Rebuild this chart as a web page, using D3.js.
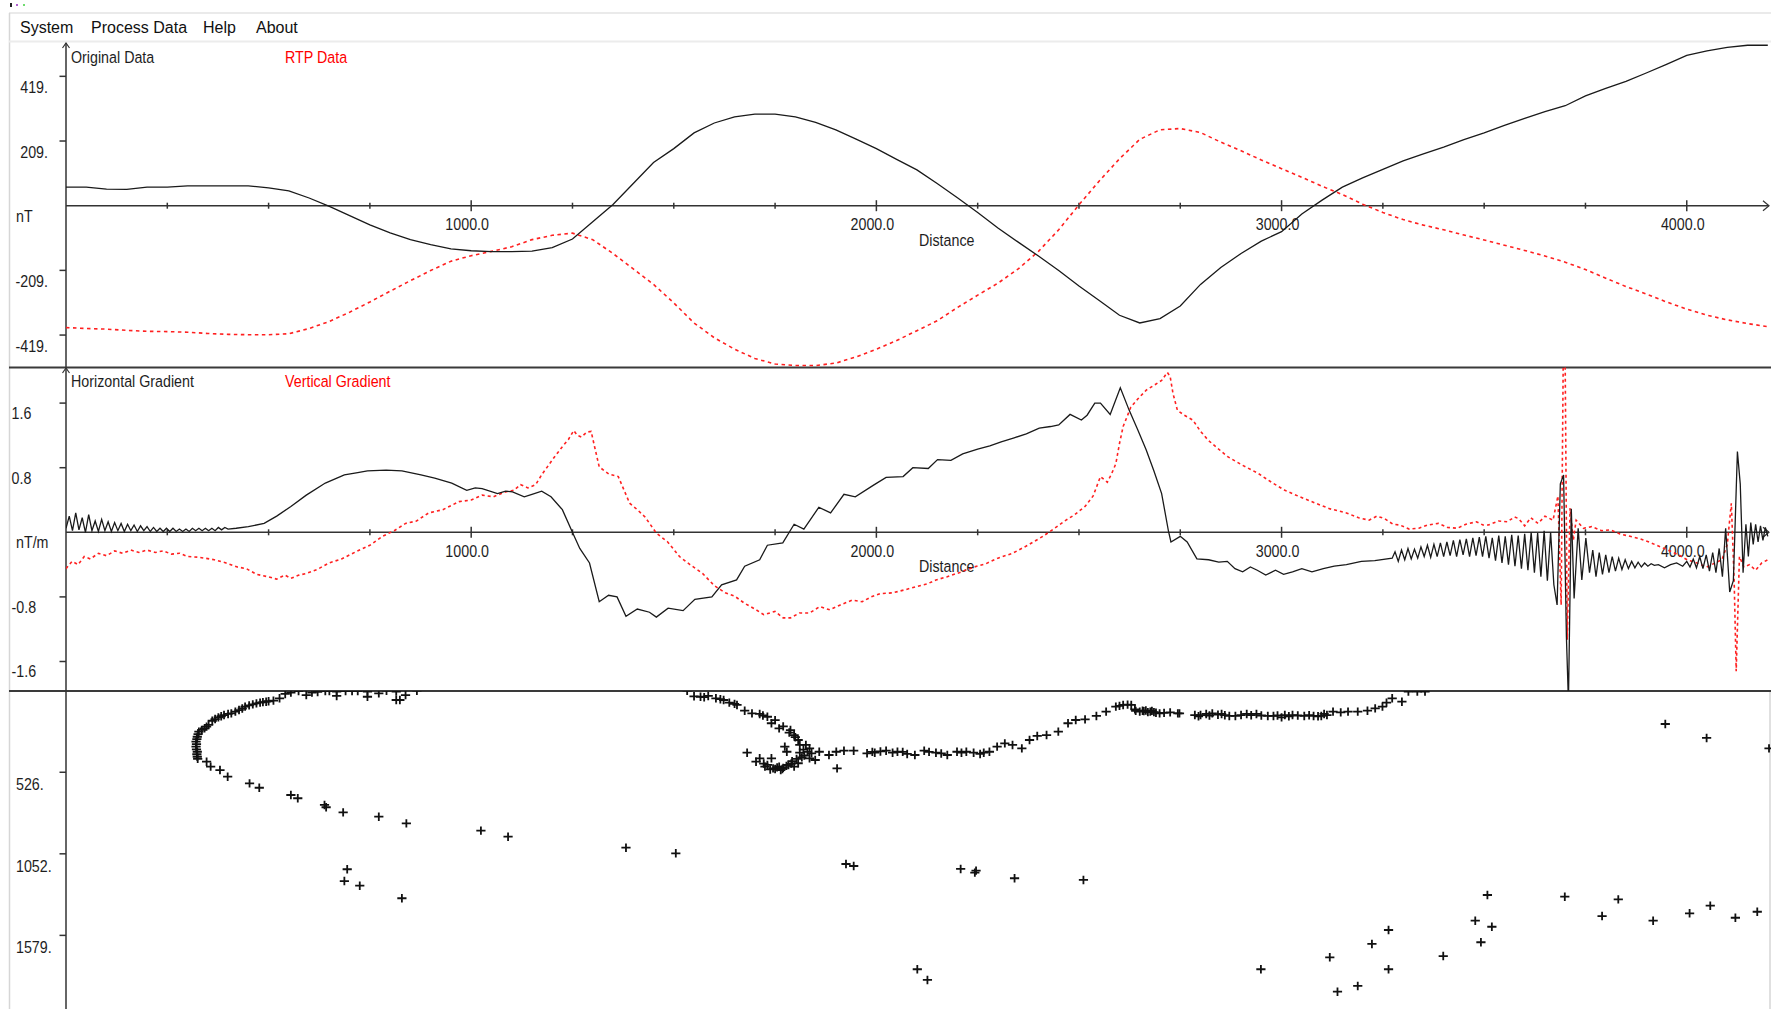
<!DOCTYPE html>
<html>
<head>
<meta charset="utf-8">
<script src="https://cdn.jsdelivr.net/npm/d3@7"></script>
<style>
  body { margin: 0; background: #fff; overflow: hidden; }
  text { font-family: "Liberation Sans", Arial, sans-serif; font-size: 17px; fill: #1e1e1e; }
  .menu text { font-family: "Segoe UI", "Liberation Sans", Arial, sans-serif; font-size: 16px; fill: #111; }
</style>
</head>
<body>
<div id="canvas"></div>
<script>
// ---- panel 1 : original / RTP field (nT) sampled every 50 m ----
const odDist = [
  0, 50, 100, 150, 200, 250, 300, 350, 400, 450,
  500, 550, 600, 650, 700, 750, 800, 850, 900, 950,
  1000, 1050, 1100, 1150, 1200, 1250, 1300, 1350, 1400, 1450,
  1500, 1550, 1600, 1650, 1700, 1750, 1800, 1850, 1900, 1950,
  2000, 2050, 2100, 2150, 2200, 2250, 2300, 2350, 2400, 2450,
  2500, 2550, 2600, 2650, 2700, 2750, 2800, 2850, 2900, 2950,
  3000, 3050, 3100, 3150, 3200, 3250, 3300, 3350, 3400, 3450,
  3500, 3550, 3600, 3650, 3700, 3750, 3800, 3850, 3900, 3950,
  4000, 4050, 4100, 4150, 4200
];
const odVal = [
  60, 60, 54, 53, 60, 60, 64, 64, 64, 64,
  58, 48, 25, -2, -32, -62, -88, -110, -126, -140,
  -146, -149, -149, -147, -136, -108, -52, 4, 72, 140,
  185, 236, 268, 288, 297, 297, 288, 270, 246, 216,
  185, 150, 116, 72, 26, -22, -72, -118, -163, -210,
  -260, -307, -355, -380, -366, -325, -255, -200, -155, -115,
  -84, -27, 18, 60, 90, 118, 145, 168, 190, 214,
  236, 260, 283, 305, 324, 356, 380, 403, 430, 458,
  487, 502, 513, 520, 520
];
const rtpVal = [
  -395, -398, -400, -404, -407, -408, -410, -414, -417, -418,
  -418, -415, -398, -375, -345, -312, -277, -243, -210, -180,
  -162, -148, -133, -110, -96, -89, -110, -155, -205, -255,
  -315, -380, -428, -465, -495, -513, -518, -518, -510, -490,
  -465, -437, -405, -373, -330, -290, -251, -205, -148, -78,
  3, 80, 152, 215, 246, 250, 237, 206, 178, 148,
  120, 92, 63, 36, 5, -22, -45, -63, -78, -95,
  -111, -128, -145, -163, -183, -207, -235, -262, -286, -312,
  -335, -355, -370, -382, -392
];

// ---- panel 2 : horizontal gradient (nT/m) ----
const hgDist = [
  0, 8, 16, 24, 32, 40, 48, 56, 64, 72,
  80, 88, 96, 104, 112, 120, 128, 136, 144, 152,
  160, 168, 176, 184, 192, 200, 208, 216, 224, 232,
  240, 248, 256, 264, 272, 280, 288, 296, 304, 312,
  320, 328, 336, 344, 352, 360, 368, 376, 384, 392,
  400, 420, 450, 489, 520, 555, 593, 640, 687, 720,
  744, 790, 829, 876, 910, 952, 989, 1010, 1027, 1065,
  1085, 1102, 1131, 1150, 1174, 1197, 1225, 1249, 1268, 1292,
  1316, 1339, 1360, 1382, 1410, 1440, 1457, 1486, 1523, 1552,
  1594, 1618, 1655, 1675, 1712, 1731, 1769, 1797, 1821, 1858,
  1887, 1920, 1948, 1995, 2024, 2066, 2090, 2128, 2151, 2184,
  2213, 2250, 2280, 2308, 2340, 2370, 2402, 2430, 2450, 2478,
  2506, 2520, 2539, 2553, 2577, 2602, 2624, 2645, 2666, 2685,
  2704, 2721, 2727, 2750, 2767, 2791, 2820, 2845, 2866, 2885,
  2904, 2923, 2940, 2961, 2985, 3005, 3027, 3050, 3075, 3103,
  3130, 3160, 3197, 3230, 3273, 3280, 3288, 3296, 3304, 3312,
  3320, 3328, 3336, 3344, 3352, 3360, 3368, 3376, 3384, 3392,
  3400, 3408, 3416, 3424, 3432, 3440, 3448, 3456, 3464, 3472,
  3480, 3488, 3496, 3504, 3512, 3520, 3528, 3536, 3544, 3552,
  3560, 3568, 3576, 3584, 3592, 3600, 3608, 3616, 3624, 3632,
  3640, 3648, 3656, 3664, 3672, 3680, 3688, 3696, 3703, 3708,
  3715, 3722, 3732, 3741, 3751, 3760, 3768, 3776, 3784, 3792,
  3800, 3808, 3816, 3824, 3832, 3840, 3848, 3856, 3864, 3872,
  3880, 3888, 3896, 3904, 3912, 3920, 3930, 3945, 3960, 3975,
  3990, 4000, 4008, 4016, 4024, 4032, 4040, 4048, 4056, 4064,
  4072, 4080, 4088, 4096, 4106, 4115, 4125, 4132, 4139, 4146,
  4152, 4158, 4164, 4170, 4176, 4182, 4188, 4194, 4200
];
const hgVal = [
  0.05, 0.20, 0.02, 0.24, 0.03, 0.18, 0.00, 0.22, 0.02, 0.14,
  0.01, 0.16, 0.02, 0.13, 0.01, 0.12, 0.02, 0.11, 0.01, 0.10,
  0.02, 0.09, 0.01, 0.08, 0.02, 0.07, 0.01, 0.06, 0.01, 0.05,
  0.01, 0.05, 0.01, 0.05, 0.01, 0.04, 0.01, 0.04, 0.01, 0.05,
  0.02, 0.05, 0.02, 0.05, 0.02, 0.05, 0.02, 0.06, 0.03, 0.06,
  0.04, 0.05, 0.07, 0.11, 0.20, 0.32, 0.46, 0.61, 0.71, 0.74,
  0.76, 0.77, 0.76, 0.71, 0.67, 0.61, 0.52, 0.55, 0.54, 0.48,
  0.51, 0.50, 0.44, 0.47, 0.51, 0.44, 0.28, 0.01, -0.20, -0.38,
  -0.86, -0.78, -0.80, -1.04, -0.95, -0.99, -1.05, -0.94, -0.97, -0.83,
  -0.80, -0.65, -0.59, -0.42, -0.34, -0.16, -0.13, 0.10, 0.04, 0.31,
  0.24, 0.47, 0.44, 0.59, 0.68, 0.69, 0.80, 0.79, 0.90, 0.89,
  0.97, 1.03, 1.07, 1.12, 1.17, 1.22, 1.29, 1.31, 1.33, 1.46,
  1.39, 1.45, 1.60, 1.60, 1.46, 1.79, 1.51, 1.27, 1.02, 0.76,
  0.48, 0.01, -0.12, -0.05, -0.12, -0.33, -0.34, -0.37, -0.36, -0.45,
  -0.49, -0.43, -0.47, -0.53, -0.47, -0.52, -0.49, -0.45, -0.49, -0.45,
  -0.42, -0.40, -0.36, -0.35, -0.32, -0.24, -0.36, -0.22, -0.34, -0.20,
  -0.33, -0.21, -0.32, -0.18, -0.30, -0.16, -0.31, -0.15, -0.30, -0.13,
  -0.30, -0.12, -0.29, -0.10, -0.30, -0.09, -0.28, -0.08, -0.30, -0.07,
  -0.29, -0.06, -0.30, -0.05, -0.32, -0.07, -0.35, -0.04, -0.38, -0.05,
  -0.40, -0.03, -0.42, -0.04, -0.45, -0.02, -0.47, 0.00, -0.50, -0.01,
  -0.55, 0.02, -0.60, 0.00, -0.65, -0.90, 0.60, 0.71, -1.30, -2.10,
  0.29, -0.82, 0.05, -0.59, -0.07, -0.50, -0.22, -0.55, -0.25, -0.52,
  -0.28, -0.50, -0.30, -0.48, -0.32, -0.46, -0.34, -0.45, -0.36, -0.44,
  -0.37, -0.43, -0.38, -0.42, -0.39, -0.41, -0.40, -0.44, -0.40, -0.38,
  -0.42, -0.36, -0.43, -0.33, -0.44, -0.30, -0.45, -0.28, -0.48, -0.25,
  -0.50, -0.20, -0.55, 0.05, -0.74, -0.60, 1.00, 0.60, -0.50, 0.10,
  -0.30, 0.12, -0.15, 0.10, -0.12, 0.08, -0.10, 0.06, -0.05
];

// ---- panel 2 : vertical gradient (nT/m) ----
const vgDist = [
  0, 15, 30, 45, 60, 80, 100, 120, 140, 160,
  180, 200, 220, 240, 260, 281, 300, 330, 366, 395,
  423, 445, 470, 498, 520, 540, 555, 575, 593, 620,
  649, 680, 716, 750, 781, 810, 838, 865, 895, 930,
  970, 1000, 1027, 1055, 1084, 1105, 1122, 1140, 1159, 1175,
  1188, 1205, 1225, 1240, 1253, 1262, 1272, 1285, 1296, 1305,
  1316, 1340, 1363, 1391, 1410, 1429, 1457, 1485, 1514, 1540,
  1571, 1600, 1627, 1650, 1675, 1700, 1722, 1750, 1770, 1788,
  1810, 1835, 1860, 1885, 1911, 1940, 1965, 1987, 2010, 2040,
  2072, 2100, 2125, 2147, 2175, 2210, 2241, 2270, 2300, 2336,
  2370, 2411, 2440, 2468, 2490, 2515, 2535, 2553, 2570, 2581,
  2591, 2600, 2609, 2628, 2645, 2666, 2685, 2704, 2718, 2725,
  2732, 2743, 2760, 2781, 2800, 2819, 2840, 2866, 2900, 2942,
  2975, 3008, 3045, 3084, 3120, 3160, 3190, 3216, 3235, 3254,
  3275, 3292, 3315, 3339, 3360, 3387, 3410, 3434, 3455, 3481,
  3497, 3510, 3535, 3557, 3575, 3585, 3600, 3615, 3633, 3650,
  3670, 3682, 3690, 3695, 3700, 3705, 3712, 3720, 3727, 3745,
  3765, 3790, 3812, 3835, 3860, 3885, 3907, 3930, 3954, 3980,
  4001, 4025, 4049, 4070, 4087, 4100, 4110, 4117, 4122, 4130,
  4141, 4155, 4170, 4185, 4200
];
const vgVal = [
  -0.45, -0.36, -0.40, -0.30, -0.33, -0.26, -0.29, -0.23, -0.26, -0.22,
  -0.25, -0.22, -0.25, -0.23, -0.27, -0.26, -0.30, -0.31, -0.34, -0.38,
  -0.43, -0.45, -0.52, -0.55, -0.58, -0.53, -0.57, -0.53, -0.51, -0.46,
  -0.38, -0.33, -0.24, -0.16, -0.05, 0.02, 0.11, 0.14, 0.24, 0.28,
  0.38, 0.40, 0.46, 0.44, 0.50, 0.52, 0.59, 0.55, 0.59, 0.72,
  0.81, 0.93, 1.06, 1.15, 1.26, 1.20, 1.18, 1.24, 1.25, 1.05,
  0.81, 0.72, 0.69, 0.36, 0.28, 0.19, -0.01, -0.12, -0.30, -0.40,
  -0.51, -0.66, -0.75, -0.79, -0.88, -0.95, -1.02, -0.98, -1.06, -1.06,
  -1.00, -1.00, -0.92, -0.96, -0.90, -0.84, -0.86, -0.80, -0.76, -0.75,
  -0.71, -0.67, -0.64, -0.59, -0.55, -0.49, -0.43, -0.39, -0.32, -0.26,
  -0.17, -0.05, 0.05, 0.15, 0.22, 0.32, 0.45, 0.69, 0.62, 0.73,
  0.85, 1.10, 1.31, 1.55, 1.65, 1.76, 1.82, 1.88, 1.98, 1.93,
  1.72, 1.51, 1.45, 1.39, 1.25, 1.14, 1.05, 0.94, 0.84, 0.73,
  0.62, 0.52, 0.44, 0.36, 0.29, 0.24, 0.18, 0.15, 0.20, 0.17,
  0.10, 0.09, 0.04, 0.05, 0.09, 0.11, 0.06, 0.05, 0.10, 0.13,
  0.09, 0.09, 0.14, 0.13, 0.19, 0.17, 0.08, 0.18, 0.11, 0.20,
  0.15, 0.45, -0.90, 2.05, 2.05, -1.33, 0.30, -0.10, 0.15, 0.05,
  0.07, 0.02, 0.03, -0.02, -0.05, -0.08, -0.12, -0.17, -0.22, -0.28,
  -0.34, -0.38, -0.43, -0.38, -0.34, -0.15, 0.36, -0.60, -1.72, -0.30,
  -0.43, -0.40, -0.47, -0.38, -0.34
];

// ---- panel 3 : depth solutions (distance, depth) ----
const solDist = [
  866, 838, 815, 815, 824, 791, 772, 744, 744, 720,
  706, 690, 668, 668, 650, 640, 621, 607, 593, 574,
  555, 541, 527, 512, 500, 494, 486, 479, 470, 461,
  452, 442, 435, 427, 418, 408, 400, 390, 383, 376,
  368, 361, 352, 347, 342, 335, 328, 326, 324, 323,
  321, 322, 321, 322, 324, 323, 324, 325, 347, 357,
  380, 399, 453, 477, 555, 572, 638, 642, 684, 772,
  840, 1024, 1091, 694, 687, 725, 829,
  1533, 1550, 1566, 1575, 1585, 1604, 1615, 1623, 1637, 1650,
  1656, 1675, 1693, 1712, 1720, 1731, 1741, 1750, 1760, 1770,
  1785, 1788, 1797, 1800, 1807, 1811, 1820, 1826, 1835, 1840,
  1859, 1849, 1835, 1816, 1790, 1770, 1750, 1722, 1731, 1745,
  1760, 1764, 1783, 1797, 1807, 1741, 1712, 1703, 1681, 1774,
  1779, 1811, 1883, 1901, 1903, 1920, 1944, 1977, 1990, 1996,
  2010, 2024, 2040, 2052, 2065, 2076, 2095, 2118, 2130, 2147,
  2160, 2175, 2199, 2210, 2222, 2240, 2256, 2265, 2279, 2298,
  2317, 2336, 2359, 2378, 2397, 2420, 2449, 2473, 2492, 2515,
  2543, 2567, 2591, 2600, 2609, 2620, 2629, 2638, 2640, 2650,
  2657, 2665, 2676, 2685, 2699, 2710, 2725, 2744,
  1725, 1738, 1755, 1768, 1778, 1792, 1803, 1822, 1830, 2660,
  2670, 2680, 2690,
  2748, 2786, 2795, 2800, 2814, 2822, 2829, 2843, 2852, 2860,
  2871, 2886, 2900, 2914, 2925, 2938, 2950, 2966, 2980, 2990,
  3000, 3008, 3018, 3027, 3040, 3056, 3068, 3079, 3090, 3098,
  3105, 3112, 3127, 3146, 3164, 3188, 3212, 3231, 3249, 3259,
  3273, 3297, 3313, 3335, 3354,
  1382, 1505, 1925, 1944, 2208, 2243, 2246, 2341, 2511, 2101,
  2126, 3947, 4049, 4203, 2949, 3119, 3138, 3188, 3223, 3264,
  3264, 3399, 3478, 3508, 3519, 3492, 3699, 3791, 3831, 3917,
  4007, 4058, 4120, 4174
];
const solDepth = [
  0, 28, 6, 60, 60, 0, 17, 6, 39, 2,
  2, 2, 6, 34, 2, 2, 8, 12, 28, 2,
  12, 21, 49, 64, 68, 71, 74, 77, 82, 88,
  95, 103, 115, 125, 135, 146, 150, 157, 165, 172,
  183, 194, 221, 232, 243, 253, 264, 280, 297, 312,
  329, 345, 361, 378, 394, 410, 426, 440, 458, 490,
  512, 555, 598, 626, 673, 694, 737, 752, 785, 813,
  856, 903, 942, 1152, 1228, 1258, 1339,
  0, 36, 39, 42, 34, 49, 55, 60, 77, 85,
  92, 129, 146, 150, 160, 168, 210, 190, 243, 230,
  270, 254, 286, 300, 318, 350, 380, 350, 372, 404,
  394, 447, 436, 430, 470, 498, 505, 470, 479, 501,
  490, 512, 479, 490, 468, 436, 436, 458, 400, 361,
  394, 400, 415, 394, 501, 387, 387, 404, 395, 400,
  392, 387, 400, 394, 395, 408, 415, 387, 395, 400,
  405, 415, 394, 400, 394, 400, 408, 400, 394, 361,
  340, 350, 372, 318, 292, 286, 264, 210, 189, 185,
  163, 135, 103, 98, 92, 90, 92, 120, 130, 135,
  129, 128, 135, 138, 146, 143, 140, 146,
  490, 508, 495, 505, 485, 455, 440, 418, 395, 132,
  138, 130, 142,
  146, 157, 165, 157, 150, 160, 146, 155, 150, 158,
  163, 163, 157, 150, 158, 150, 160, 163, 163, 160,
  172, 157, 165, 157, 160, 163, 158, 163, 165, 163,
  150, 157, 135, 140, 135, 135, 129, 114, 103, 77,
  49, 71, 6, 6, 6,
  1013, 1049, 1118, 1131, 1150, 1174, 1161, 1210, 1221, 1797,
  1866, 215, 305, 372, 1797, 1720, 1942, 1905, 1634, 1544,
  1797, 1712, 1484, 1318, 1523, 1623, 1329, 1454, 1346, 1484,
  1436, 1387, 1465, 1426
];

// ---- axes ----
const distMajor = [1000, 2000, 3000, 4000];
const distMinor = [250, 500, 750, 1250, 1500, 1750, 2250, 2500, 2750, 3250, 3500, 3750];
const odTicks = [419.2, 209.6, -209.6, -419.2];
const odTickLabels = ["419.", "209.", "-209.", "-419."];
const grTicks = [1.6, 0.8, -0.8, -1.6];
const grTickLabels = ["1.6", "0.8", "-0.8", "-1.6"];
const depthTicks = [526.2, 1052.4, 1578.6];
const depthTickLabels = ["526.", "1052.", "1579."];
const menuItems = ["System", "Process Data", "Help", "About"];

const width = 1771;
const height = 1009;
const axisColor = "#333";
const squeeze = 0.84; // the app's narrow UI font

const svg = d3.select("#canvas").append("svg")
  .attr("width", width)
  .attr("height", height);

const x = d3.scaleLinear().domain([0, 4200]).range([66, 1767.8]);
const y1 = d3.scaleLinear().domain([-524, 524]).range([367.4, 44]);
const y2 = d3.scaleLinear().domain([-2, 2]).range([693.8, 370.8]);
const y3 = d3.scaleLinear().domain([0, 2631]).range([690.7, 1098.5]);

// squeeze text horizontally around its own anchor point
function narrow(sel) {
  sel.attr("transform", function () {
    const xx = +this.getAttribute("x");
    const yy = +this.getAttribute("y");
    return `translate(${xx},${yy}) scale(${squeeze},1) translate(${-xx},${-yy})`;
  });
  return sel;
}
function label(xx, yy, txt, color) {
  const t = svg.append("text").attr("x", xx).attr("y", yy).text(txt);
  if (color) t.style("fill", color);
  narrow(t);
  return t;
}

// window frame + menu
svg.append("line").attr("x1", 9).attr("x2", width).attr("y1", 13).attr("y2", 13)
  .attr("stroke", "#e3e3e3").attr("stroke-width", 1.5);
svg.append("line").attr("x1", 9.5).attr("x2", 9.5).attr("y1", 13).attr("y2", height)
  .attr("stroke", "#d6d6d6").attr("stroke-width", 1.5);
svg.append("line").attr("x1", 9).attr("x2", width).attr("y1", 41.5).attr("y2", 41.5)
  .attr("stroke", "#ececec").attr("stroke-width", 2);
svg.append("rect").attr("x", 10).attr("y", 3).attr("width", 2).attr("height", 4).attr("fill", "#222");
svg.append("rect").attr("x", 16).attr("y", 4).attr("width", 2).attr("height", 2).attr("fill", "#b05fd0");
svg.append("rect").attr("x", 23).attr("y", 4).attr("width", 2).attr("height", 2).attr("fill", "#6fdc6f");

const menuX = [20, 91, 203, 256];
svg.append("g").attr("class", "menu")
  .selectAll("text").data(menuItems).enter().append("text")
  .attr("x", (d, i) => menuX[i])
  .attr("y", 33)
  .text((d) => d);

// clip regions for each panel
const defs = svg.append("defs");
const clips = [[42, 367.5], [367.5, 691], [691, height]];
clips.forEach((c, i) => {
  defs.append("clipPath").attr("id", "clip" + i)
    .append("rect").attr("x", 66).attr("y", c[0]).attr("width", width - 66).attr("height", c[1] - c[0]);
});

// panel separators
[367.5, 691].forEach((yy) => {
  svg.append("line").attr("x1", 9).attr("x2", width).attr("y1", yy).attr("y2", yy)
    .attr("stroke", "#3a3a3a").attr("stroke-width", 2);
});

function yAxis(yScale, top, bottom, ticks, labels, labelX, anchor, dy, arrow) {
  const g = svg.append("g");
  g.append("line").attr("x1", x(0)).attr("x2", x(0)).attr("y1", top).attr("y2", bottom)
    .attr("stroke", axisColor).attr("stroke-width", 1.5);
  if (arrow) {
    g.append("path").attr("d", `M${x(0) - 3.5},${top + 5}L${x(0)},${top}L${x(0) + 3.5},${top + 5}`)
      .attr("fill", "none").attr("stroke", axisColor).attr("stroke-width", 1.2);
  }
  g.selectAll(".tk").data(ticks).enter().append("line")
    .attr("x1", x(0) - 6.5).attr("x2", x(0))
    .attr("y1", (d) => yScale(d)).attr("y2", (d) => yScale(d))
    .attr("stroke", axisColor).attr("stroke-width", 1.5);
  g.selectAll(".lb").data(ticks).enter().append("text")
    .attr("x", labelX)
    .attr("y", (d) => yScale(d) + dy)
    .attr("text-anchor", anchor)
    .text((d, i) => labels[i])
    .call(narrow);
}

function xAxis(y0) {
  const g = svg.append("g");
  g.append("line").attr("x1", x(0)).attr("x2", 1769).attr("y1", y0).attr("y2", y0)
    .attr("stroke", axisColor).attr("stroke-width", 1.6);
  g.append("path").attr("d", `M1763,${y0 - 5}L1769,${y0}L1763,${y0 + 5}`)
    .attr("fill", "none").attr("stroke", axisColor).attr("stroke-width", 1.2);
  g.selectAll(".mn").data(distMinor).enter().append("line")
    .attr("x1", (d) => x(d)).attr("x2", (d) => x(d))
    .attr("y1", y0 - 3).attr("y2", y0 + 3)
    .attr("stroke", axisColor).attr("stroke-width", 1.5);
  g.selectAll(".mj").data(distMajor).enter().append("line")
    .attr("x1", (d) => x(d)).attr("x2", (d) => x(d))
    .attr("y1", y0 - 5.5).attr("y2", y0 + 5.5)
    .attr("stroke", axisColor).attr("stroke-width", 1.5);
  g.selectAll(".lb").data(distMajor).enter().append("text")
    .attr("x", (d) => x(d) - 4)
    .attr("y", y0 + 24.5)
    .attr("text-anchor", "middle")
    .text((d) => d3.format(".1f")(d))
    .call(narrow);
  label(919, y0 + 40, "Distance");
}

const line = (yScale) => d3.line().x((d) => x(d[0])).y((d) => yScale(d[1]));
const zip = (a, b) => a.map((d, i) => [d, b[i]]).filter((d) => d[1] !== undefined);

// ---- panel 1 ----
yAxis(y1, 43, 367.5, odTicks, odTickLabels, 48, "end", 17, true);
xAxis(y1(0));
label(16, y1(0) + 16, "nT");
label(71, 63.5, "Original Data");
label(285, 63.5, "RTP Data", "#ff0000");

const p1 = svg.append("g").attr("clip-path", "url(#clip0)");
p1.append("path").datum(zip(odDist, rtpVal)).attr("d", line(y1))
  .attr("fill", "none").attr("stroke", "#ff2020").attr("stroke-width", 1.6)
  .attr("stroke-dasharray", "3.5,3.5");
p1.append("path").datum(zip(odDist, odVal)).attr("d", line(y1))
  .attr("fill", "none").attr("stroke", "#1a1a1a").attr("stroke-width", 1.3);

// ---- panel 2 ----
yAxis(y2, 368, 691, grTicks, grTickLabels, 11.5, "start", 16, true);
xAxis(y2(0));
label(16, y2(0) + 16, "nT/m");
label(71, 387, "Horizontal Gradient");
label(285, 387, "Vertical Gradient", "#ff0000");

const p2 = svg.append("g").attr("clip-path", "url(#clip1)");
p2.append("path").datum(zip(vgDist, vgVal)).attr("d", line(y2))
  .attr("fill", "none").attr("stroke", "#ff2020").attr("stroke-width", 1.6)
  .attr("stroke-dasharray", "3,3");
p2.append("path").datum(zip(hgDist, hgVal)).attr("d", line(y2))
  .attr("fill", "none").attr("stroke", "#1a1a1a").attr("stroke-width", 1.3);

// ---- panel 3 ----
yAxis(y3, 691, height, depthTicks, depthTickLabels, 16, "start", 18, false);
svg.append("line").attr("x1", 1770).attr("x2", 1770).attr("y1", 692).attr("y2", height)
  .attr("stroke", "#d6d6d6").attr("stroke-width", 1.5);

const p3 = svg.append("g").attr("clip-path", "url(#clip2)");
p3.selectAll("path.sol").data(zip(solDist, solDepth)).enter().append("path")
  .attr("class", "sol")
  .attr("transform", (d) => `translate(${x(d[0])},${y3(d[1])})`)
  .attr("d", "M-4.6,0H4.6M0,-4.2V4.2")
  .attr("stroke", "#111").attr("stroke-width", 1.8).attr("fill", "none");
</script>
</body>
</html>
